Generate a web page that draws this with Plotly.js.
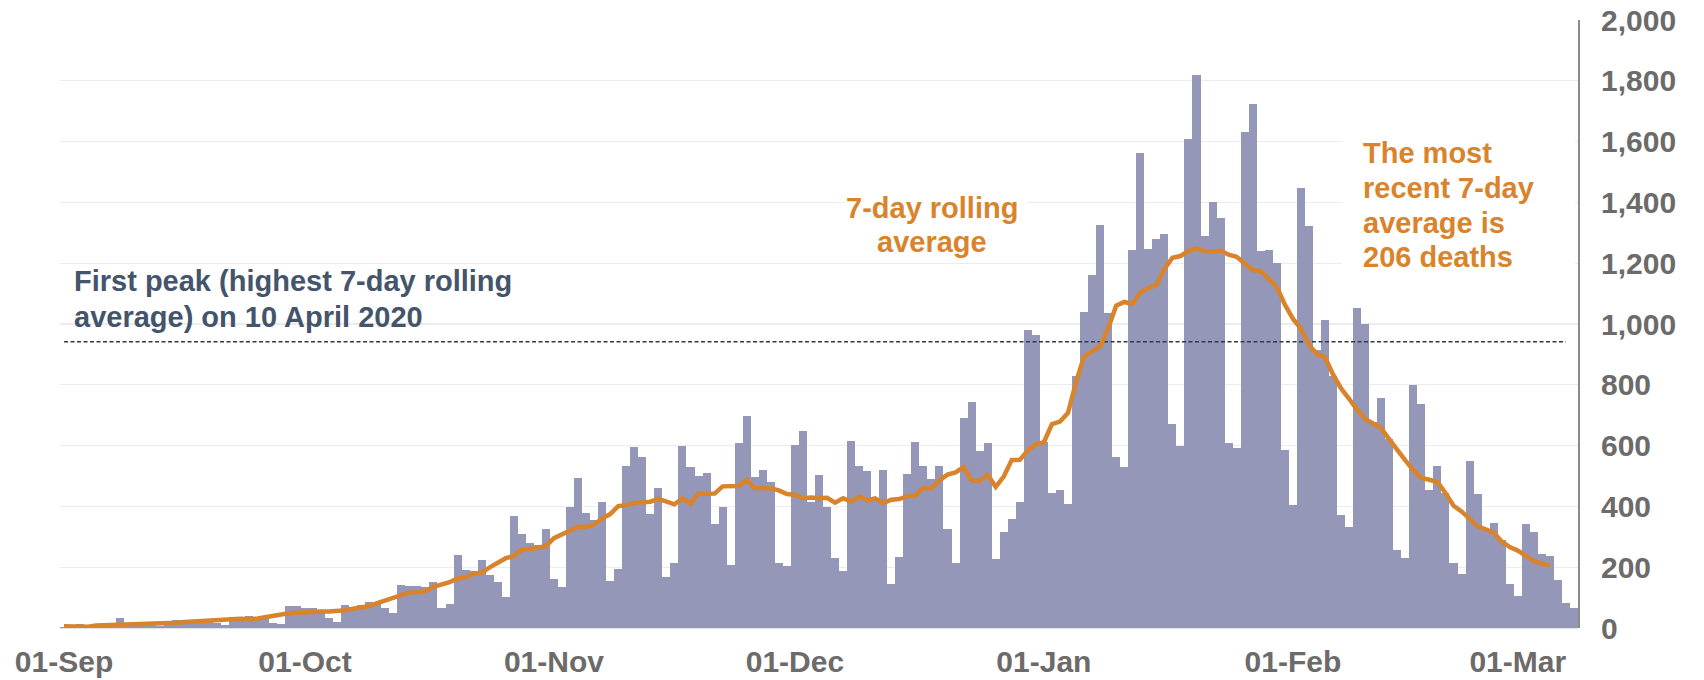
<!DOCTYPE html>
<html>
<head>
<meta charset="utf-8">
<script src="https://cdn.plot.ly/plotly-3.0.1.min.js"></script>
<style>
html,body{margin:0;padding:0;background:#ffffff;}
#chart{width:1704px;height:680px;}
</style>
</head>
<body>
<div id="chart"></div>
<script>
// Daily deaths (by reported date), 1 Sep 2020 – 8 Mar 2021
const deathsSep = [3, 3, 12, 6, 2, 2, 3, 32, 8, 14, 6, 9, 5, 9, 27, 20, 21, 27, 27, 18, 11, 37, 37, 40, 34, 34, 17, 13, 71, 71];
const deathsOct = [66, 66, 49, 33, 19, 76, 70, 77, 87, 81, 65, 50, 143, 137, 138, 136, 150, 67, 80, 241, 191, 189, 224, 174, 151, 102, 367, 310, 280, 274, 326];
const deathsNov = [162, 136, 397, 492, 378, 355, 413, 156, 194, 532, 595, 563, 376, 462, 168, 213, 598, 529, 501, 511, 341, 398, 206, 608, 696, 498, 521, 479, 215, 205];
const deathsDec = [603, 648, 414, 504, 397, 231, 189, 616, 533, 516, 424, 519, 144, 232, 506, 612, 532, 489, 534, 326, 215, 691, 744, 583, 610, 227, 316, 357, 414, 981, 964];
const deathsJan = [613, 445, 454, 407, 830, 1041, 1162, 1325, 1035, 563, 529, 1243, 1564, 1248, 1280, 1295, 671, 599, 1610, 1820, 1290, 1401, 1348, 610, 592, 1631, 1725, 1239, 1245, 1200, 587];
const deathsFeb = [406, 1449, 1322, 915, 1014, 828, 373, 333, 1052, 1001, 678, 758, 621, 258, 230, 799, 738, 454, 533, 445, 215, 178, 548, 442, 323, 345, 290, 144];
const deathsMar = [104, 343, 315, 242, 236, 158, 82, 65];

// 7-day rolling average (centred), 1 Sep 2020 – 5 Mar 2021
const avgSep = [5.6, 4.1, 4.3, 4.4, 8.6, 9.3, 9.6, 9.6, 10.6, 11.0, 11.9, 11.1, 12.9, 13.9, 16.9, 19.4, 21.3, 21.6, 23.0, 25.4, 28.1, 29.1, 30.1, 30.0, 30.3, 35.1, 40.0, 43.7, 48.3, 50.4];
const avgOct = [52.7, 53.6, 54.3, 54.1, 55.7, 58.7, 63.3, 67.9, 72.3, 81.9, 91.4, 100.1, 107.1, 117.0, 117.3, 121.6, 135.6, 143.3, 150.6, 163.1, 166.6, 178.6, 181.7, 199.7, 216.7, 229.7, 236.9, 258.6, 260.1, 265.0, 269.3];
const avgNov = [295.3, 309.3, 320.9, 333.3, 332.4, 340.7, 360.0, 374.7, 401.1, 404.1, 411.1, 412.9, 415.6, 425.0, 415.6, 406.7, 426.0, 408.7, 441.6, 440.6, 442.0, 465.9, 465.4, 466.9, 486.6, 460.4, 460.3, 459.6, 452.7, 440.7];
const avgDec = [438.3, 426.6, 428.9, 426.6, 428.4, 412.0, 426.6, 415.1, 432.6, 420.1, 426.3, 410.6, 421.9, 424.1, 433.4, 435.6, 461.6, 459.1, 485.6, 504.4, 511.7, 529.0, 485.1, 483.7, 504.0, 464.4, 498.3, 552.7, 553.1, 584.3, 604.0];
const avgJan = [611.1, 670.6, 679.1, 707.4, 809.1, 893.4, 909.0, 926.4, 985.4, 1060.1, 1072.4, 1066.0, 1103.1, 1118.6, 1128.6, 1181.0, 1217.6, 1223.6, 1240.9, 1248.4, 1239.7, 1238.7, 1241.7, 1228.1, 1220.9, 1198.6, 1177.4, 1174.1, 1147.6, 1121.6, 1064.0];
const avgFeb = [1017.7, 984.7, 931.6, 901.0, 890.6, 833.9, 788.0, 754.1, 717.6, 688.0, 671.6, 656.9, 620.7, 583.1, 551.1, 519.0, 493.9, 487.7, 480.3, 444.4, 402.1, 383.4, 356.6, 334.4, 324.3, 313.7, 284.4, 266.3];
const avgMar = [254.7, 239.1, 220.3, 211.4, 205.9];

// First peak reference line
const firstPeakValue = 942;
const firstPeakSpan = ['2020-09-01', '2021-03-07'];

// Axis ticks
const tickDates = ['2020-09-01', '2020-10-01', '2020-11-01', '2020-12-01', '2021-01-01', '2021-02-01', '2021-03-01'];
const tickLabels = ['01-Sep', '01-Oct', '01-Nov', '01-Dec', '01-Jan', '01-Feb', '01-Mar'];
const startDate = '2020-09-01';

const deaths = [].concat(deathsSep, deathsOct, deathsNov, deathsDec, deathsJan, deathsFeb, deathsMar);
const avg = [].concat(avgSep, avgOct, avgNov, avgDec, avgJan, avgFeb, avgMar);

function dayList(start, n) {
  const out = [];
  const t0 = Date.parse(start + 'T00:00:00Z');
  for (let i = 0; i < n; i++) out.push(new Date(t0 + i * 86400000).toISOString().slice(0, 10));
  return out;
}
const dates = dayList(startDate, deaths.length);
const avgDates = dates.slice(0, avg.length);

const ORANGE = '#d9832b';
const GREY = '#6d6a6a';
const FONT = 'Liberation Sans, Arial, sans-serif';

// plot area in pixels: left 60, right 1578, top 20, bottom 628
const PL = 60, PW = 1518, PB = 628, PH = 608;
const px = v => (v - PL) / PW;
const py = v => (PB - v) / PH;

const traces = [
  {
    type: 'bar', x: dates, y: deaths,
    marker: {color: '#9497b7', line: {width: 0}},
    hoverinfo: 'skip'
  },
  {
    type: 'scatter', mode: 'lines', x: firstPeakSpan, y: [firstPeakValue, firstPeakValue],
    line: {color: '#2e3b4d', width: 1.5, dash: '4px,2.5px'},
    hoverinfo: 'skip'
  },
  {
    type: 'scatter', mode: 'lines', x: avgDates, y: avg,
    line: {color: ORANGE, width: 4.5},
    hoverinfo: 'skip'
  }
];

function ann(text, x, y, color, anchor) {
  return {
    xref: 'paper', yref: 'paper', x: px(x), y: py(y),
    xanchor: anchor, yanchor: 'middle', showarrow: false,
    text: '<b>' + text + '</b>',
    font: {family: FONT, size: 29, color: color},
    align: anchor === 'center' ? 'center' : 'left'
  };
}

const layout = {
  width: 1704, height: 680,
  margin: {l: PL, r: 1704 - PL - PW, t: PB - PH, b: 680 - PB, pad: 0},
  paper_bgcolor: '#ffffff', plot_bgcolor: '#ffffff',
  bargap: 0,
  showlegend: false,
  font: {family: FONT},
  xaxis: {
    type: 'date',
    range: ['2020-08-31 12:00', '2021-03-08 12:00'],
    tickmode: 'array', tickvals: tickDates, ticktext: tickLabels,
    tickfont: {family: FONT, size: 30, color: GREY, weight: 'bold'},
    showgrid: false, zeroline: false, showline: false, ticks: '',
    ticklabelstandoff: 13,
    fixedrange: true
  },
  yaxis: {
    side: 'right',
    range: [0, 2000], tick0: 0, dtick: 200, tickformat: ',d',
    tickfont: {family: FONT, size: 30, color: GREY, weight: 'bold'},
    gridcolor: '#ececec', gridwidth: 1.2,
    zeroline: true, zerolinecolor: '#e2e2e2', zerolinewidth: 1.5,
    showline: true, linecolor: '#8a8a8a', linewidth: 2,
    ticks: '', ticklabelstandoff: 15,
    fixedrange: true
  },
  shapes: [
    {type: 'rect', xref: 'paper', yref: 'paper', layer: 'above',
     x0: px(845), x1: px(1027), y0: py(258), y1: py(186),
     fillcolor: '#ffffff', line: {width: 0}},
    {type: 'rect', xref: 'paper', yref: 'paper', layer: 'above',
     x0: px(1342), x1: px(1575), y0: py(292), y1: py(112),
     fillcolor: '#ffffff', line: {width: 0}}
  ],
  annotations: [
    ann('First peak (highest 7-day rolling', 72, 281, '#44546a', 'left'),
    ann('average) on 10 April 2020', 72, 317, '#44546a', 'left'),
    ann('7-day rolling', 932, 208, ORANGE, 'center'),
    ann('average', 932, 242, ORANGE, 'center'),
    ann('The most', 1361, 153, ORANGE, 'left'),
    ann('recent 7-day', 1361, 188, ORANGE, 'left'),
    ann('average is', 1361, 223, ORANGE, 'left'),
    ann('206 deaths', 1361, 257, ORANGE, 'left')
  ]
};

Plotly.newPlot('chart', traces, layout, {displayModeBar: false, staticPlot: true});
</script>
</body>
</html>
